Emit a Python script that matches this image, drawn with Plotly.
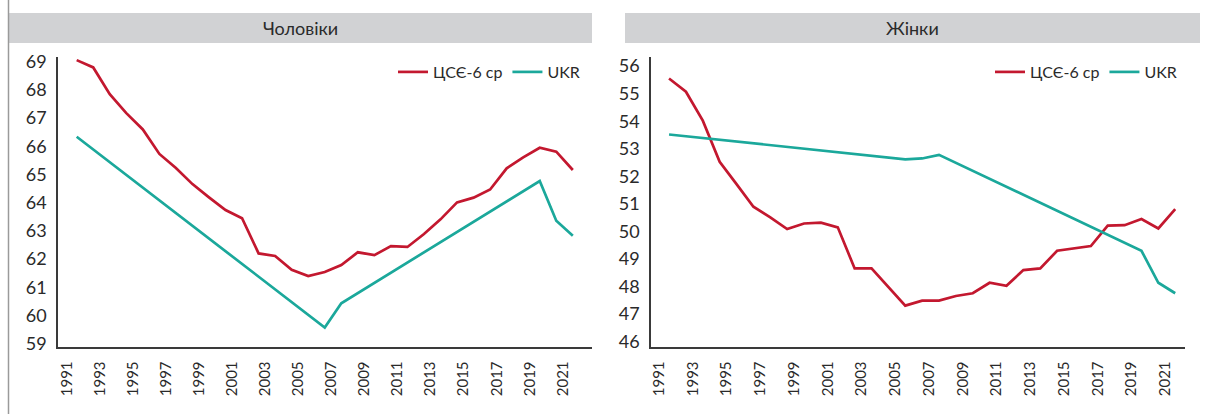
import plotly.graph_objects as go

years = list(range(1991, 2022))

men_cse = [69.06, 68.80, 67.85, 67.18, 66.60, 65.73, 65.23, 64.66, 64.19, 63.74,
           63.45, 62.20, 62.11, 61.62, 61.40, 61.54, 61.79, 62.24, 62.14, 62.46,
           62.43, 62.89, 63.41, 64.01, 64.18, 64.47, 65.22, 65.61, 65.95, 65.81, 65.16]
men_ukr = [66.34] + [None] * 14 + [59.57, 60.43] + [None] * 11 + [64.77, 63.36, 62.83]

women_cse = [55.55, 55.07, 54.02, 52.53, 51.72, 50.90, 50.51, 50.09, 50.29, 50.32,
             50.15, 48.66, 48.66, 48.00, 47.31, 47.49, 47.49, 47.66, 47.76, 48.14,
             48.03, 48.60, 48.66, 49.30, 49.39, 49.47, 50.21, 50.23, 50.45, 50.11, 50.81]
women_ukr = [53.52] + [None] * 13 + [52.62, 52.65, 52.78] + [None] * 11 + [49.30, 48.14, 47.76]

panel_titles = ["Чоловіки", "Жінки"]
series_names = ["ЦСЄ-6 ср", "UKR"]

RED = "#C3182F"
TEAL = "#1BA89B"
FONT = "Lato"
W, H = 1205, 414

fig = go.Figure()

fig.add_trace(go.Scatter(x=years, y=men_cse, name=series_names[0], mode="lines",
                         line=dict(color=RED, width=2.7), xaxis="x", yaxis="y", legend="legend"))
fig.add_trace(go.Scatter(x=years, y=men_ukr, name=series_names[1], mode="lines", connectgaps=True,
                         line=dict(color=TEAL, width=2.7), xaxis="x", yaxis="y", legend="legend"))
fig.add_trace(go.Scatter(x=years, y=women_cse, name=series_names[0], mode="lines",
                         line=dict(color=RED, width=2.7), xaxis="x2", yaxis="y2", legend="legend2"))
fig.add_trace(go.Scatter(x=years, y=women_ukr, name=series_names[1], mode="lines", connectgaps=True,
                         line=dict(color=TEAL, width=2.7), xaxis="x2", yaxis="y2", legend="legend2"))

ydom = [1 - 346.7 / H, 1 - 57.3 / H]

xcommon = dict(showline=True, linecolor="#3a3a3a", linewidth=1.5, showgrid=False, zeroline=False,
               ticks="", tickmode="linear", tick0=1991, dtick=2, tickangle=-90,
               ticklabelshift=-10, ticklabelstandoff=7, automargin=False,
               tickfont=dict(family=FONT, size=15, color="#2a2a2a"))
ycommon = dict(showline=True, linecolor="#3a3a3a", linewidth=1.5, showgrid=False, zeroline=False,
               ticks="", tickmode="linear", dtick=1, ticklabelstandoff=6, automargin=False,
               tickfont=dict(family=FONT, size=18, color="#2a2a2a"), domain=ydom)

fig.update_layout(
    width=W, height=H, autosize=False,
    margin=dict(l=0, r=0, t=0, b=0, pad=0, autoexpand=False),
    paper_bgcolor="white", plot_bgcolor="white",
    xaxis=dict(domain=[58 / W, 592 / W], range=[1989.87, 2022.16], anchor="y", **xcommon),
    yaxis=dict(range=[58.89, 69.16], tick0=59, anchor="x", **ycommon),
    xaxis2=dict(domain=[651 / W, 1185 / W], range=[1989.93, 2021.58], anchor="y2", **xcommon),
    yaxis2=dict(range=[45.82, 56.32], tick0=46, anchor="x2", **ycommon),
    legend=dict(orientation="h", x=585 / W, xanchor="right", y=1 - 72 / H, yanchor="middle",
                font=dict(family=FONT, size=16, color="#2a2a2a"), bgcolor="rgba(0,0,0,0)",
                itemwidth=30),
    legend2=dict(orientation="h", x=1182 / W, xanchor="right", y=1 - 72 / H, yanchor="middle",
                 font=dict(family=FONT, size=16, color="#2a2a2a"), bgcolor="rgba(0,0,0,0)",
                 itemwidth=30),
    shapes=[
        dict(type="rect", xref="paper", yref="paper", x0=9 / W, x1=592 / W,
             y0=1 - 43 / H, y1=1 - 13 / H, fillcolor="#D1D2D4", line=dict(width=0), layer="below"),
        dict(type="rect", xref="paper", yref="paper", x0=625 / W, x1=1200 / W,
             y0=1 - 43 / H, y1=1 - 13 / H, fillcolor="#D1D2D4", line=dict(width=0), layer="below"),
        dict(type="line", xref="paper", yref="paper", x0=8.5 / W, x1=8.5 / W, y0=0, y1=1,
             line=dict(color="#9a9a9a", width=1.5)),
    ],
    annotations=[
        dict(text=panel_titles[0], xref="paper", yref="paper", x=300 / W, y=1 - 28 / H,
             xanchor="center", yanchor="middle", showarrow=False,
             font=dict(family=FONT, size=18, color="#2a2a2a")),
        dict(text=panel_titles[1], xref="paper", yref="paper", x=912 / W, y=1 - 28 / H,
             xanchor="center", yanchor="middle", showarrow=False,
             font=dict(family=FONT, size=18, color="#2a2a2a")),
    ],
)

fig.write_html("out.html", config={"displayModeBar": False, "staticPlot": False},
               post_script="document.body.style.margin='0';document.body.style.overflow='hidden';")
